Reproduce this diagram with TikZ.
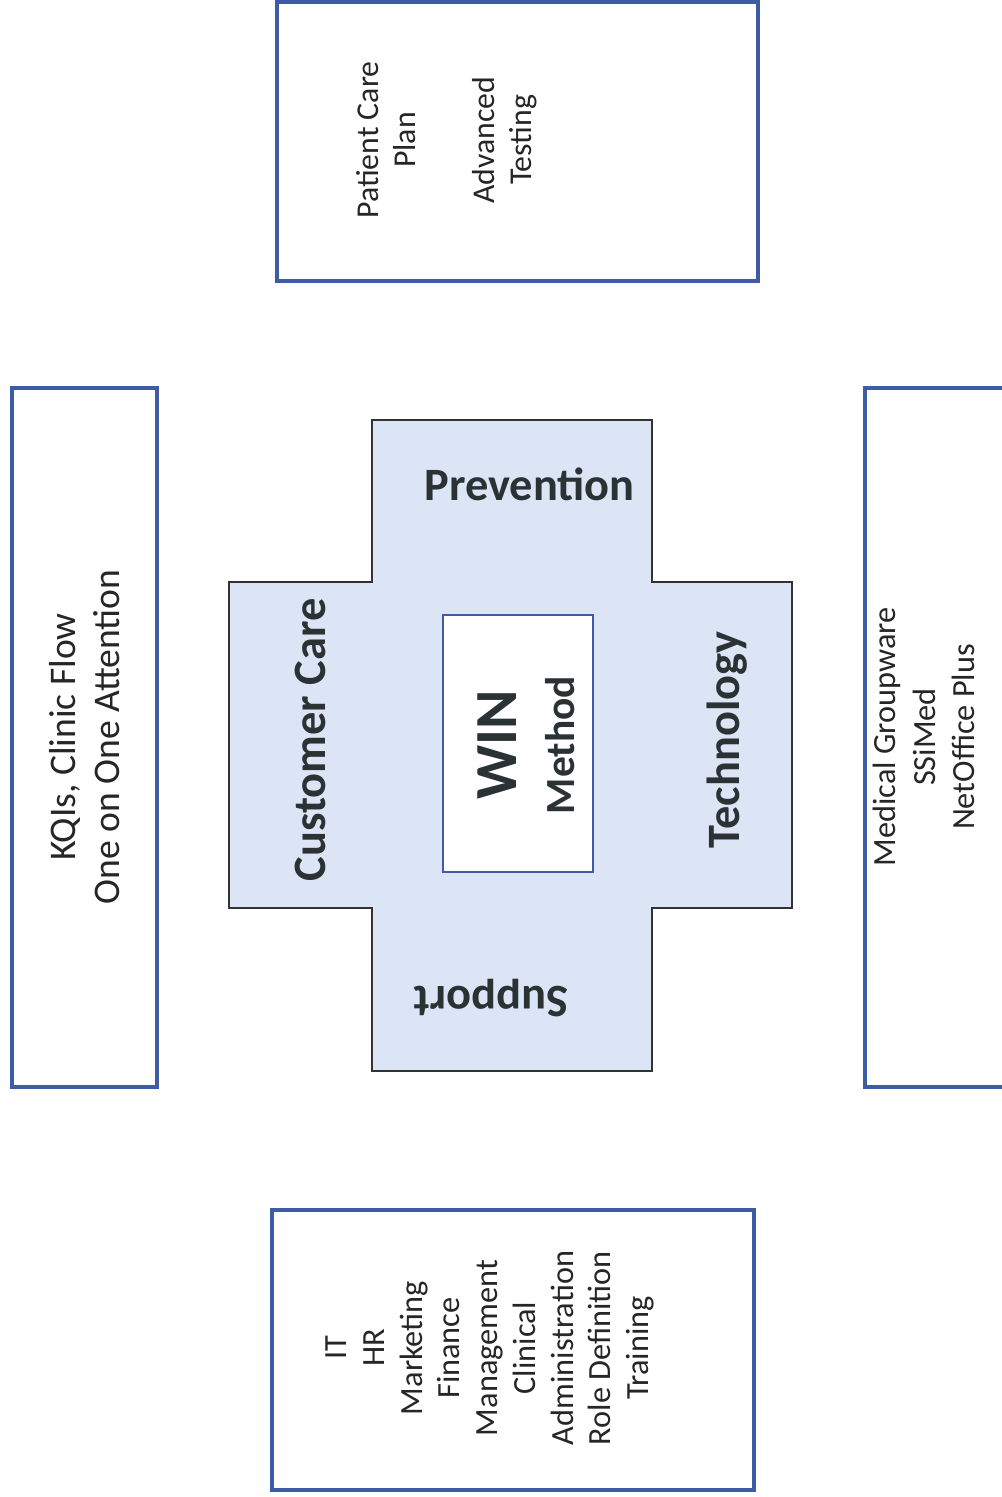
\documentclass[tikz,border=0pt]{standalone}
\usepackage{fontspec}
\setmainfont{Carlito}
\usetikzlibrary{positioning}
\definecolor{boxblue}{RGB}{62,92,166}
\definecolor{crossfill}{RGB}{219,229,245}
\definecolor{inktext}{RGB}{42,50,52}

\begin{document}
\begin{tikzpicture}[
    x=0.02cm, y=-0.02cm,
    box/.style={draw=boxblue, line width=2pt, fill=white, inner sep=0pt},
    note/.style={rotate=90, align=center, text=black!85, inner sep=0pt},
    arm/.style={font=\fontsize{26.4}{30}\selectfont\bfseries, text=inktext, inner sep=0pt}
]
    \useasboundingbox (0,0) rectangle (1001,1497);

    % outer boxes
    \node[box, minimum width=9.62cm, minimum height=5.58cm] (plan) at (517.5,141.5) {};
    \node[box, minimum width=2.9cm, minimum height=13.98cm] (flow) at (84.5,737.5) {};
    \node[box, minimum width=3.9cm, minimum height=13.98cm] (soft) at (962.5,737.5) {};
    \node[box, minimum width=9.64cm, minimum height=5.6cm] (dept) at (513,1350) {};

    % the cross
    \draw[fill=crossfill, draw=black!80, line width=0.8pt]
        (372,420) -- (652,420) -- (652,582) -- (792,582) -- (792,908) -- (652,908)
        -- (652,1071) -- (372,1071) -- (372,908) -- (229,908) -- (229,582) -- (372,582) -- cycle;
    \node[box, line width=1.4pt, minimum width=3cm, minimum height=5.14cm] (win) at (518,743.5) {};

    % texts in the boxes
    \node[note, font=\fontsize{18.1}{21}\selectfont] (plantxt) at (447,140)
        {Patient Care\\Plan\\[24pt]Advanced\\Testing};
    \node[note, font=\fontsize{21.4}{25.5}\selectfont] (flowtxt) at (84.5,737)
        {KQIs, Clinic Flow\\One on One Attention};
    \node[note, font=\fontsize{18.4}{22.5}\selectfont] (softtxt) at (924,737)
        {Medical Groupware\\SSiMed\\NetOffice Plus};
    \node[note, font=\fontsize{18.4}{21.5}\selectfont] (depttxt) at (490,1348)
        {IT\\HR\\Marketing\\Finance\\Management\\Clinical\\Administration\\Role Definition\\Training};

    % arms of the cross
    \node[arm] (prev) at (529.5,484) {Prevention};
    \node[arm, rotate=90] (care) at (310,740) {Customer Care};
    \node[arm, rotate=90] (techn) at (727,740) {Technology};
    \node[arm, rotate=180] (supp) at (491,998) {Support};

    % centre
    \node[arm, rotate=90, font=\fontsize{34}{40}\selectfont\bfseries] (wintxt) at (497,745) {WIN};
    \node[arm, rotate=90, font=\fontsize{23.6}{28}\selectfont\bfseries] (method) at (560,745) {Method};
\end{tikzpicture}
\end{document}
